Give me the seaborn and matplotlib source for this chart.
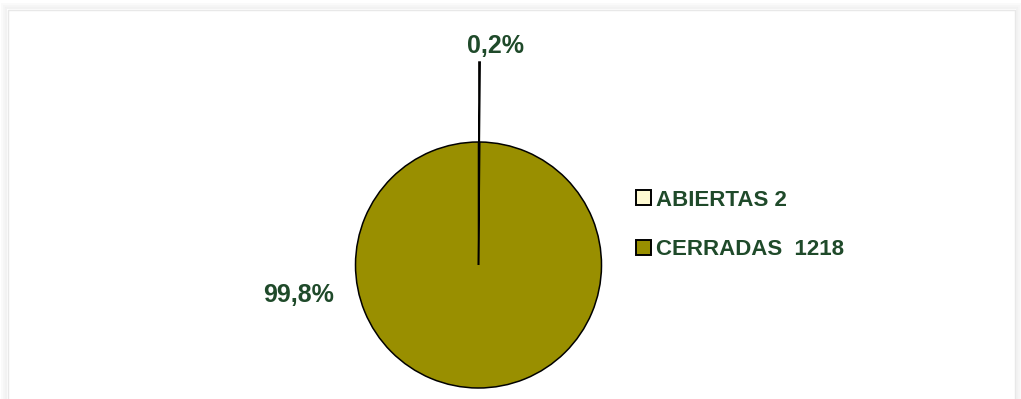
import matplotlib
matplotlib.use("Agg")
import matplotlib.pyplot as plt
from matplotlib.patches import Rectangle
import seaborn as sns

# Case status counts
categories = ["ABIERTAS", "CERRADAS"]
counts = [2, 1218]
legend_labels = ["ABIERTAS 2", "CERRADAS  1218"]

sns.set_style("white")
plt.rcParams["font.family"] = ["Liberation Sans", "DejaVu Sans"]

slice_colors = ["#FFFAD2", "#998F00"]
text_color = "#1F4A2A"

W, H, DPI = 1021, 399, 100
fig = plt.figure(figsize=(W / DPI, H / DPI), dpi=DPI)
fig.patch.set_facecolor("white")

# Outer chart frame (display pixels, origin bottom-left) with a soft shadow
top = H - 10
for i, a in enumerate([0.05, 0.035, 0.02]):
    d = 2 * (i + 1)
    fig.add_artist(Rectangle((8 - d, -20), 1007 + 2 * d, top + 20 + d,
                             transform=None, fill=False, zorder=-3,
                             edgecolor=(0, 0, 0, a), linewidth=1.5))
fig.add_artist(Rectangle((8, -20), 1007, top + 20, transform=None,
                         facecolor="white", edgecolor="#E8E8E8",
                         linewidth=1, zorder=-2))

ax = fig.add_axes([0, 0, 1, 1])
ax.set_facecolor("none")
ax.set_zorder(1)

# Pie: radius 1 centred at the origin, scaled so 1 unit = 123 px
cx, cy, r_px = 478.5, 134.0, 123.0  # centre measured from the bottom-left
wedges, _ = ax.pie(
    counts,
    colors=slice_colors,
    startangle=90,
    counterclock=False,
    explode=[0.65, 0.0],
    wedgeprops=dict(edgecolor="black", linewidth=1.1),
    radius=1.0,
)
ax.set_xlim(-cx / r_px, (W - cx) / r_px)
ax.set_ylim(-cy / r_px, (H - cy) / r_px)
ax.set_aspect("equal")
ax.axis("off")

# Percentage labels
total = sum(counts)
pcts = [f"{100 * c / total:.1f}%".replace(".", ",") for c in counts]
label_pos = [(0.14, 1.78), (-1.46, -0.24)]
for txt, (x, y) in zip(pcts, label_pos):
    ax.text(x, y, txt, ha="center", va="center", fontsize=18,
            fontweight="bold", color=text_color)

leg = ax.legend(
    wedges, legend_labels,
    loc="center left",
    bbox_to_anchor=(636 / W, 1 - 225 / H),
    bbox_transform=fig.transFigure,
    frameon=False,
    fontsize=16,
    borderpad=0,
    borderaxespad=0,
    handlelength=0.66,
    handleheight=0.66,
    handletextpad=0.25,
    labelspacing=1.3,
)
for t in leg.get_texts():
    t.set_color(text_color)
    t.set_fontweight("bold")
for h in leg.legend_handles:
    h.set_linewidth(1.4)

fig.savefig("out.png", dpi=DPI, facecolor="white")
